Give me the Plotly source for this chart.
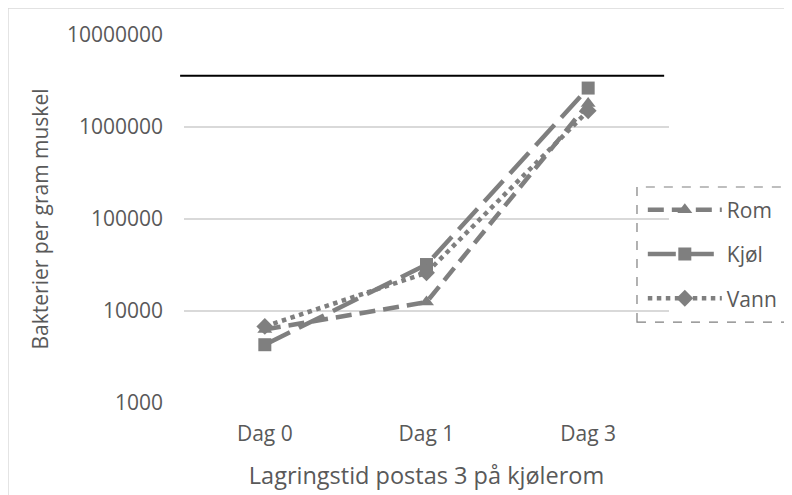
import plotly.graph_objects as go

# Data
days = ["Dag 0", "Dag 1", "Dag 3"]
rom = [6300, 12500, 1800000]
kjol = [4300, 32000, 2650000]
vann = [6800, 26000, 1500000]
limit = 3600000  # horizontal reference line

GREY = "#7f7f7f"
FONT = "Open Sans"

fig = go.Figure()

series = [
    ("Rom", rom, "16px,8px", "triangle-up"),
    ("Kjøl", kjol, "28px,10px", "square"),
    ("Vann", vann, "dot", "diamond"),
]
for name, vals, dash, sym in series:
    fig.add_trace(go.Scatter(
        x=days, y=vals, name=name, mode="lines+markers",
        legendgroup=name,
        line=dict(color=GREY, width=4.5, dash=dash),
        marker=dict(symbol=sym, size=13, color=GREY),
    ))

# limit line across the plot area
fig.add_shape(type="line", xref="paper", yref="y", x0=-0.008, x1=0.99,
              y0=limit, y1=limit, line=dict(color="black", width=2))

# outer chart frame (excel style)
fig.add_shape(type="rect", xref="paper", yref="paper", x0=-0.363, x1=1.3,
              y0=-0.3, y1=1.0734, line=dict(color="#d9d9d9", width=1.5))
# dashed legend frame
fig.add_shape(type="rect", xref="paper", yref="paper", x0=0.934, x1=1.24,
              y0=0.220, y1=0.587, line=dict(color="#7f7f7f", width=1.2, dash="dash"))

# page body has an 8px margin, so margins are shifted up/left by 8px
fig.update_layout(
    width=792, height=495,
    margin=dict(l=176, r=131, t=27, b=100, autoexpand=False),
    paper_bgcolor="white", plot_bgcolor="white",
    font=dict(family=FONT, color="#595959", size=21),
    showlegend=True,
    legend=dict(x=0.946, y=0.58, xanchor="left", yanchor="top",
                bgcolor="rgba(0,0,0,0)", borderwidth=0,
                tracegroupgap=14, itemwidth=74,
                font=dict(size=21, color="#595959")),
    xaxis=dict(
        range=[-0.5, 2.5],
        showgrid=False, zeroline=False, showline=False,
        ticks="", tickfont=dict(size=21), ticklabelstandoff=16,
        title=dict(text="Lagringstid postas 3 på kjølerom",
                   font=dict(size=23.5), standoff=21),
    ),
    yaxis=dict(
        type="log", range=[3, 7],
        tickvals=[1000, 10000, 100000, 1000000, 10000000],
        ticktext=["1000", "10000", "100000", "1000000", "10000000"],
        showgrid=True, gridcolor="#d9d9d9", gridwidth=1.5,
        zeroline=False, showline=False, ticks="",
        ticklabelstandoff=20, tickfont=dict(size=21),
        title=dict(text="Bakterier per gram muskel", font=dict(size=21), standoff=12),
    ),
)

fig.write_html("out.html")
